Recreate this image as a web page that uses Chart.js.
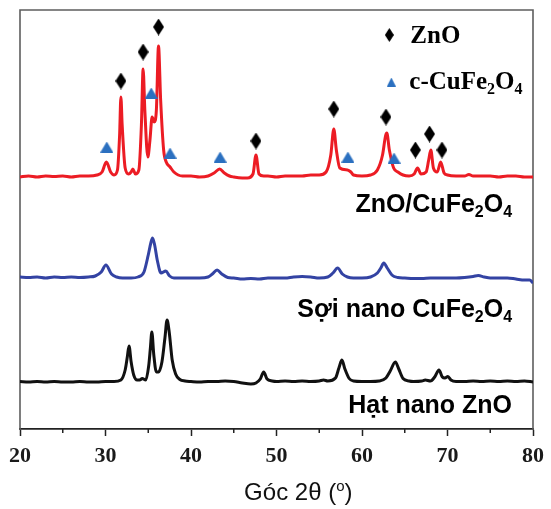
<!DOCTYPE html>
<html><head><meta charset="utf-8">
<script src="https://cdn.jsdelivr.net/npm/chart.js@4"></script>
<style>html,body{margin:0;padding:0;background:#fff}#wrap{width:551px;height:509px}</style>
</head><body><div id="wrap"><canvas id="c" width="551" height="509"></canvas></div>
<script>
// ---- data (2θ in degrees, intensity in stacked arbitrary units) ----
const xTickValues = [20, 30, 40, 50, 60, 70, 80];
const xMinorTickValues = [25, 35, 45, 55, 65, 75];

const compositeX = [20,21,22,23,24,25,26,27,28,29,29.6,30.1,30.6,31.0,31.4,31.65,31.8,31.95,32.3,32.7,33.0,33.2,33.5,33.9,34.2,34.4,34.6,34.95,35.2,35.45,35.7,35.95,36.2,36.45,36.8,37.1,37.55,38.0,38.5,39,40,41,42,42.7,43.35,43.9,44.5,45,46,46.6,47.25,47.6,47.95,48.5,49,50,51,52,53,54,55,55.8,56.35,56.7,57.0,57.4,58.3,58.7,59,60,61,61.8,62.4,62.75,62.9,63.2,63.7,64.2,64.8,65.5,66.1,66.5,66.9,67.5,67.8,68.05,68.35,68.8,69.2,69.6,70,71,72,72.5,73,74,75,76,77,78,79,80];
const compositeY = [252,253,252,253,252.5,253,252,253,253,254,257,267,257,254,259,294,332,304,261,255,257,260,255,259,304,360,319,272,289,312,307,319,383,329,279,267,262,257,254,253,253,252,253,256,260,256,253,252,251,251,255,274,255,253,253,252,253,253,253,254,254,257,274,300,279,261,259,257,254,253,254,259,274,293,296,279,261,257,254,253,255,261,255,257,269,279,261,257,267,256,254,253,253,254.5,253,253,253,252,253,253,252,252];

const fiberX = [20,21,22,23,24,25,26,27,28,28.8,29.5,30.05,30.7,31.3,32,33,33.8,34.5,35.0,35.3,35.5,35.75,36.05,36.5,37.05,37.5,38,39,40,41,42,42.5,43.05,43.6,44.3,45,46,47,48,49,50,51,52,53,54,55,56,56.6,57.15,57.7,58.3,59,60,61,61.8,62.2,62.55,62.95,63.5,64.2,65,66,67,68,69,70,71,72,73,73.6,74.3,75,76,77,78,79,79.6,80];
const fiberY = [152,151.5,152,151,152,151.5,152,151.5,152,153,157,164,155,152,151,151,152,157,174,186,191,184,169,156,158,153,151,151,151,151,152,155,159,155,151.5,151,150,150.5,150,151,151,151,152,152.5,152,151,152,156,161,155,152,151,151,152,156,161,166,161,154,151.5,151,150.5,150.5,151,151,151,151,151.5,152.5,153.5,152,151,151,151,150,149,149,146];

const particleX = [20,21,22,23,24,25,26,27,28,29,30,31,31.8,32.3,32.55,32.75,33.0,33.3,33.7,34.0,34.3,34.7,35.05,35.25,35.42,35.65,35.95,36.2,36.6,36.95,37.2,37.45,37.8,38.2,38.7,39.3,40,41,42,43,44,45,46,47,47.6,48.1,48.5,48.9,49.5,50,51,52,53,54,55,55.5,56,56.9,57.3,57.65,58.0,58.5,59,60,61,62,62.8,63.3,63.9,64.3,64.8,65.5,66,67,67.4,68,68.5,69.0,69.4,69.7,70.05,70.4,71,72,73,74,75,76,77,78,79,80];
const particleY = [47.5,47,47.5,47,47.5,47,47,47.5,47,47,47.5,47.5,49,59,72,83,67,54,49,49,50.5,49,63,81,97,74,57,57,67,91,109,97,69,55,49.5,48,47.5,47,47.5,47.5,48,47.5,46,45,46,50,57,50,48,47.5,48,47.5,48,47.5,48,49,48,51,61,69,60,50.5,48,47.5,47.5,48,51,58,67,60,50.5,48,47.5,48,49,48,52,59,52,51,52.5,49,47.5,47.5,48,47.5,48,47.5,48,47.5,48,47];

const zno_markerX = [31.8, 34.4, 36.2, 47.6, 56.7, 62.8, 66.25, 67.9, 69.35];
const zno_markerY = [348, 377, 402, 288, 320, 312, 279, 295, 279];
const cufe_markerX = [30.15, 35.35, 37.55, 43.4, 58.35, 63.75];
const cufe_markerY = [282, 336, 276, 272, 272, 271];

const legendNames = [["ZnO"], ["c-CuFe", "2", "O", "4"]];
const seriesNames = [
  ["ZnO/CuFe", "2", "O", "4"],
  ["Sợi nano CuFe", "2", "O", "4"],
  ["Hạt nano ZnO"]
];
const axisTitleParts = ["Góc 2θ (", "o", ")"];

// ---- marker images ----
function diamondCanvas(w, h, color) {
  const c = document.createElement('canvas'); c.width = w; c.height = h;
  const g = c.getContext('2d'); g.fillStyle = color;
  g.beginPath(); g.moveTo(w/2, 0); g.lineTo(w, h/2); g.lineTo(w/2, h); g.lineTo(0, h/2); g.closePath(); g.fill();
  return c;
}
function triangleCanvas(w, h, color) {
  const c = document.createElement('canvas'); c.width = w; c.height = h;
  const g = c.getContext('2d'); g.fillStyle = color;
  g.beginPath(); g.moveTo(w/2, 0); g.lineTo(w, h); g.lineTo(0, h); g.closePath(); g.fill();
  return c;
}
const BLUE_TRI = '#2b70c0';
const diamondImg = diamondCanvas(11, 17, '#000');
const triImg = triangleCanvas(13, 11, BLUE_TRI);

function toPts(xs, ys) { return xs.map((x, i) => ({x: x, y: ys[i]})); }

// draw text with subscript parts (odd indices are subscripts/superscripts)
function drawRich(ctx, parts, x, baseline, size, family, weight, align, shift) {
  const big = weight + ' ' + size + 'px ' + family;
  const small = weight + ' ' + Math.round(size * 0.62) + 'px ' + family;
  let total = 0;
  parts.forEach((p, i) => { ctx.font = (i % 2) ? small : big; total += ctx.measureText(p).width; });
  let cx = align === 'right' ? x - total : (align === 'center' ? x - total / 2 : x);
  ctx.textBaseline = 'alphabetic'; ctx.textAlign = 'left';
  parts.forEach((p, i) => {
    ctx.font = (i % 2) ? small : big;
    ctx.fillText(p, cx, (i % 2) ? baseline + shift : baseline);
    cx += ctx.measureText(p).width;
  });
}

const decorPlugin = {
  id: 'decor',
  beforeDatasetsDraw(chart) {
    const {ctx, chartArea: a} = chart;
    ctx.save();
    ctx.strokeStyle = '#5e5e5e'; ctx.lineWidth = 1.6;
    ctx.beginPath();
    ctx.moveTo(a.left, a.bottom); ctx.lineTo(a.left, a.top); ctx.lineTo(a.right, a.top); ctx.lineTo(a.right, a.bottom);
    ctx.stroke();
    ctx.restore();
  },
  afterDatasetsDraw(chart) {
    const {ctx, scales} = chart;
    const xs = scales.x, ys = scales.y;
    ctx.save();
    // white box behind bottom label
    ctx.fillStyle = '#fff';
    ctx.fillRect(xs.getPixelForValue(56.7), ys.getPixelForValue(45.5), xs.getPixelForValue(78.7) - xs.getPixelForValue(56.7), ys.getPixelForValue(1) - ys.getPixelForValue(45.5));
    ctx.fillStyle = '#000';
    const rx = xs.getPixelForValue(77.55);
    drawRich(ctx, seriesNames[0], rx, ys.getPixelForValue(217), 25, '"Liberation Sans", Arial, sans-serif', 'bold', 'right', 5);
    drawRich(ctx, seriesNames[1], rx, ys.getPixelForValue(112.5), 25, '"Liberation Sans", Arial, sans-serif', 'bold', 'right', 5);
    drawRich(ctx, seriesNames[2], rx, ys.getPixelForValue(16), 25, '"Liberation Sans", Arial, sans-serif', 'bold', 'right', 5);
    // legend
    const lx = xs.getPixelForValue(63.2);
    ctx.drawImage(diamondCanvas(9, 14, '#000'), lx - 4.5, ys.getPixelForValue(394) - 7);
    ctx.drawImage(triangleCanvas(9, 9, BLUE_TRI), lx - 2.5, ys.getPixelForValue(347) - 4.5);
    drawRich(ctx, legendNames[0], lx + 21, ys.getPixelForValue(386), 25, '"Liberation Serif", "Times New Roman", serif', 'bold', 'left', 5);
    drawRich(ctx, legendNames[1], lx + 20, ys.getPixelForValue(340), 25, '"Liberation Serif", "Times New Roman", serif', 'bold', 'left', 5);
    ctx.restore();
  },
  afterDraw(chart) {
    const {ctx, scales} = chart;
    const xs = scales.x;
    ctx.save();
    // minor ticks
    ctx.strokeStyle = '#222'; ctx.lineWidth = 1.5;
    xMinorTickValues.forEach(v => {
      const px = xs.getPixelForValue(v);
      ctx.beginPath(); ctx.moveTo(px, xs.top); ctx.lineTo(px, xs.top + 4); ctx.stroke();
    });
    // axis title with superscript
    ctx.fillStyle = '#111';
    drawRich(ctx, axisTitleParts, xs.getPixelForValue(52.55), xs.top + 71, 24, '"Liberation Sans", Arial, sans-serif', 'normal', 'center', -9);
    ctx.restore();
  }
};

new Chart(document.getElementById('c'), {
  type: 'line',
  data: {
    datasets: [
      {label: 'ZnO', type: 'scatter', data: toPts(zno_markerX, zno_markerY), pointStyle: diamondImg, pointRadius: 9, showLine: false, order: 0},
      {label: 'c-CuFe2O4', type: 'scatter', data: toPts(cufe_markerX, cufe_markerY), pointStyle: triImg, pointRadius: 7, showLine: false, order: 0},
      {label: 'ZnO/CuFe2O4', data: toPts(compositeX, compositeY), borderColor: '#ec1c24', borderWidth: 3, pointRadius: 0, cubicInterpolationMode: 'monotone', fill: false, order: 1},
      {label: 'Sợi nano CuFe2O4', data: toPts(fiberX, fiberY), borderColor: '#3343a3', borderWidth: 3, pointRadius: 0, cubicInterpolationMode: 'monotone', fill: false, order: 1},
      {label: 'Hạt nano ZnO', data: toPts(particleX, particleY), borderColor: '#111111', borderWidth: 3, pointRadius: 0, cubicInterpolationMode: 'monotone', fill: false, order: 1}
    ]
  },
  options: {
    responsive: false,
    animation: false,
    devicePixelRatio: 1,
    layout: {padding: {left: 20, right: 13, top: 10, bottom: 0}},
    plugins: {legend: {display: false}, tooltip: {enabled: false}},
    scales: {
      x: {
        type: 'linear', min: 20, max: 80,
        afterBuildTicks: (s) => { s.ticks = xTickValues.map(v => ({value: v})); },
        afterFit: (s) => { s.height = 80; },
        ticks: {
          color: '#1a1a1a', padding: 7, maxRotation: 0, autoSkip: false,
          font: {family: '"Liberation Serif", "Times New Roman", serif', size: 22, weight: 'bold'}
        },
        grid: {display: true, drawOnChartArea: false, drawTicks: true, tickLength: 7, tickColor: '#222', tickWidth: 1.5},
        border: {display: true, color: '#222', width: 1.8}
      },
      y: {display: false, min: 0, max: 419}
    }
  },
  plugins: [decorPlugin]
});
</script>
</body></html>
